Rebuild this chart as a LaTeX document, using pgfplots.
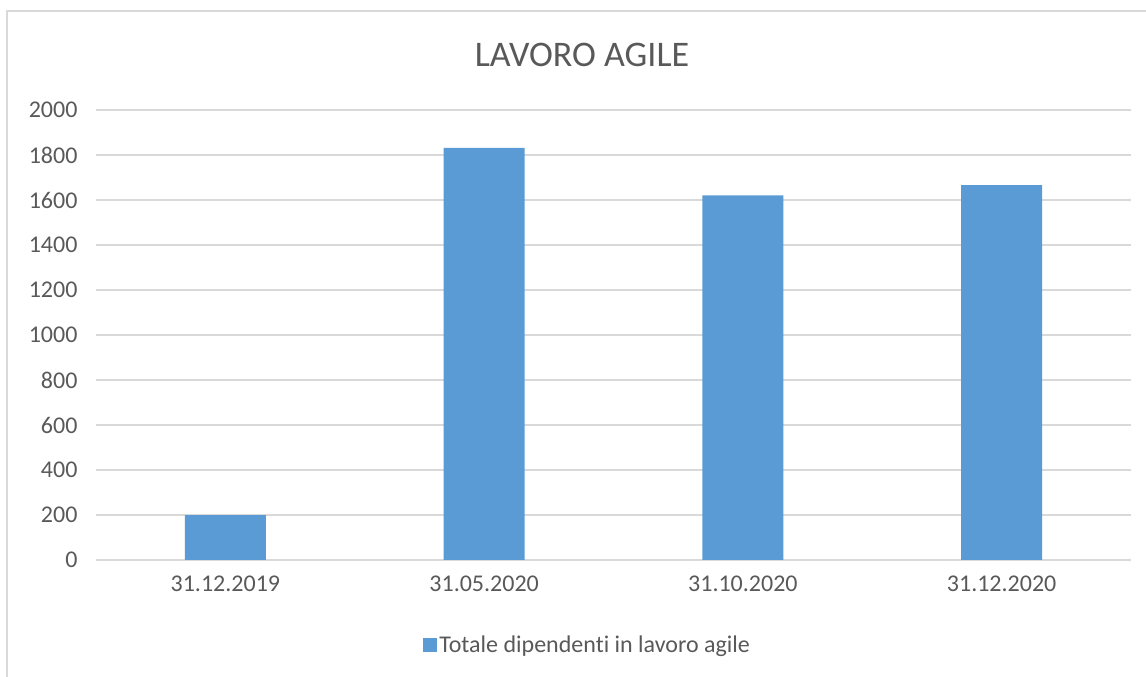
\documentclass[border=0pt]{standalone}
\usepackage{pgfplots}
\pgfplotsset{compat=1.18}
\usepackage{fontspec}
\setmainfont{Carlito}[Ligatures={NoCommon}]
\definecolor{barblue}{HTML}{5B9BD5}
\definecolor{txt}{HTML}{595959}
\definecolor{gridc}{HTML}{D9D9D9}
\begin{document}
\begin{tikzpicture}[x=1bp,y=1bp]
\useasboundingbox (0,0) rectangle (1146,677);
\draw[gridc, line width=1.5bp] (7,0) -- (7,666) -- (1146,666);
\node[text=txt, font=\fontsize{36bp}{40bp}\selectfont] at (582,622) {LAVORO AGILE};
\begin{axis}[
 at={(96bp,117bp)}, anchor=south west, scale only axis, width=1035bp, height=450bp,
 xmin=-0.5, xmax=3.5, ymin=0, ymax=2000, ytick distance=200,
 xtick=data, xticklabels={31.12.2019,31.05.2020,31.10.2020,31.12.2020},
 ymajorgrids, grid style={gridc, line width=1.3bp},
 axis line style={draw=none}, major tick length=0,
 tick label style={text=txt, font=\fontsize{24bp}{28bp}\selectfont},
 /pgf/number format/assume math mode=true,
 yticklabel style={xshift=-15bp}, xticklabel style={yshift=-12bp},
 scaled y ticks=false, /pgf/number format/1000 sep={},
 legend style={at={(0.475,-0.188)}, anchor=center, draw=none, fill=none,
   font=\fontsize{24bp}{28bp}\selectfont, text=txt},
 legend image code/.code={\fill[barblue] (0bp,-7bp) rectangle (14bp,7bp);},
]
\addplot[ybar, bar width=81bp, fill=barblue, draw=none] coordinates {(0,199) (1,1832) (2,1621) (3,1666)};
\addlegendentry{Totale dipendenti in lavoro agile}
\end{axis}
\end{tikzpicture}
\end{document}
